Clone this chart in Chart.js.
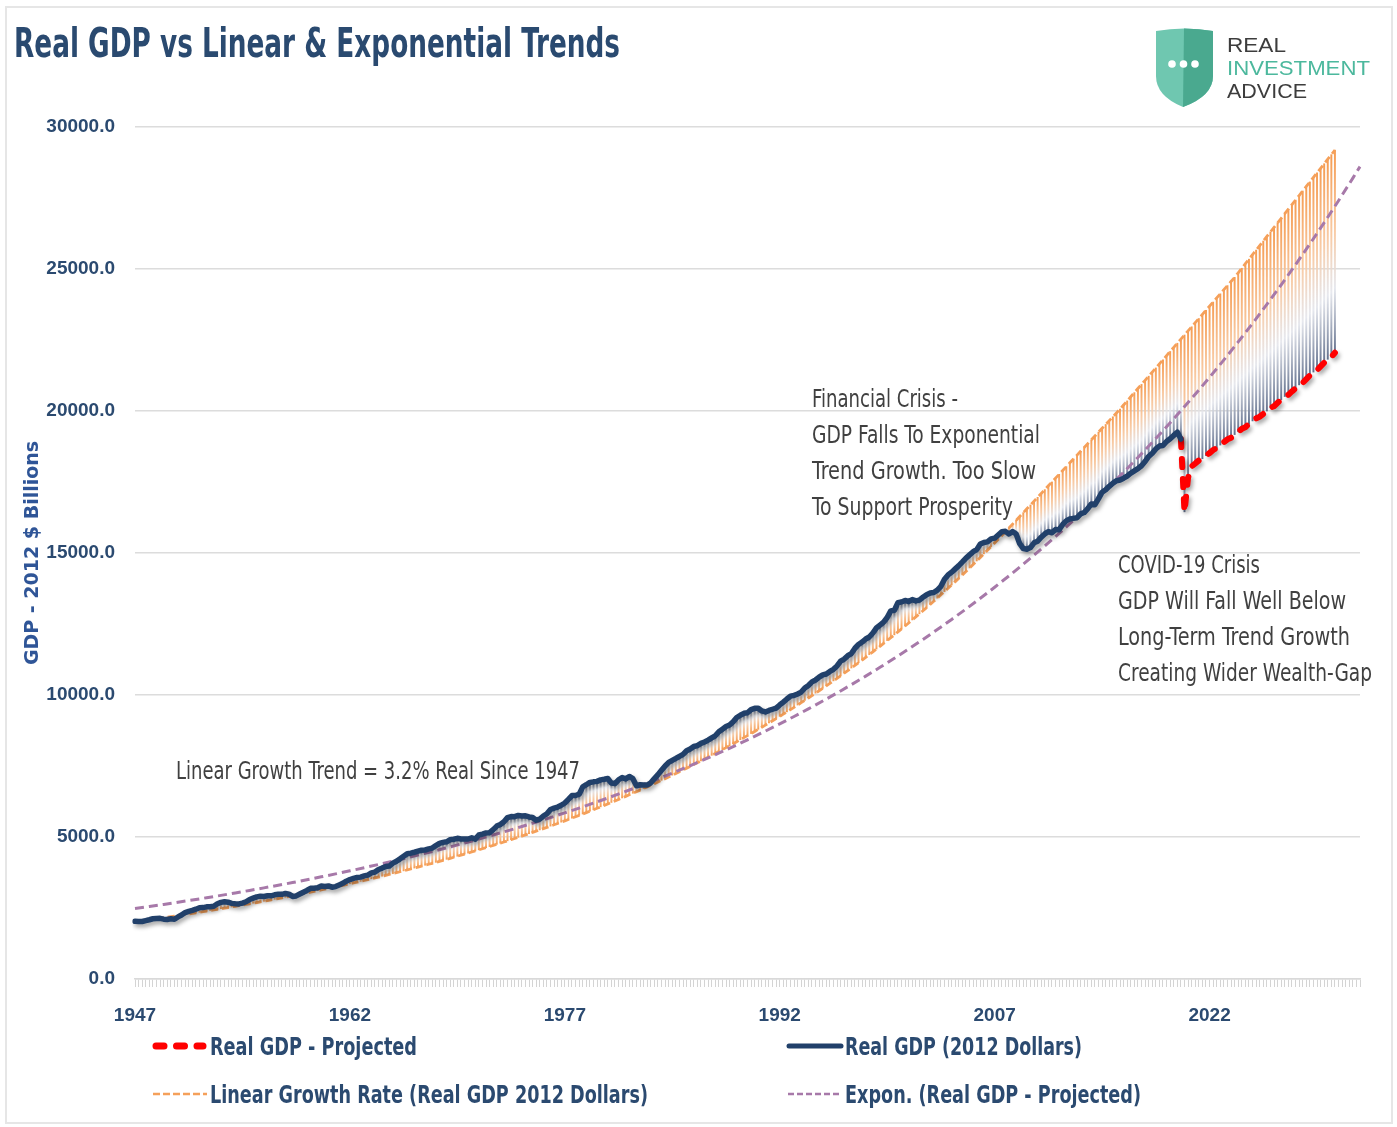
<!DOCTYPE html>
<html>
<head>
<meta charset="utf-8">
<script src="https://cdn.jsdelivr.net/npm/chart.js@4.4.1/dist/chart.umd.min.js"></script>
<style>
  html, body { margin: 0; padding: 0; background: #fff; }
  #wrap { position: relative; width: 1397px; height: 1127px; overflow: hidden;
          font-family: 'Liberation Sans Narrow', 'DejaVu Sans Condensed', 'Liberation Sans', sans-serif; }
  #frame { position: absolute; left: 5px; top: 6px; width: 1384px; height: 1114px; border: 2px solid #e6e6e6; }
  canvas { position: absolute; left: 0; top: 0; }
  svg { position: absolute; left: 0; top: 0; }
  .t { position: absolute; white-space: nowrap; line-height: 1.2; transform-origin: 0 0; }
  .note { font-size: 24px; color: #404040; }
  .leg { font-size: 25px; font-weight: bold; color: #2b4a70; }
  .logo { font-family: 'Liberation Sans', Arial, sans-serif; font-size: 21px; color: #3d3d3d; }
</style>
</head>
<body>
<div id="wrap">
  <div id="frame"></div>
  <canvas id="gdpChart" width="1397" height="1127"></canvas>

  <svg width="1397" height="1127">
    <!-- logo shield -->
    <path d="M1156,31 Q1184,26 1213,31 L1213,76 Q1213,96 1183,107 Q1156,96 1156,76 Z" fill="#6fc7b0"/>
    <path d="M1184,28.6 Q1199,29 1213,31 L1213,76 Q1213,96 1183,107 Z" fill="#4aa98f"/>
    <circle cx="1172" cy="64" r="3.8" fill="#fff"/>
    <circle cx="1183.5" cy="64" r="3.8" fill="#fff"/>
    <circle cx="1195" cy="64" r="3.8" fill="#fff"/>
    <!-- legend samples -->
    <line x1="156" y1="1046" x2="203" y2="1046" stroke="#ff0000" stroke-width="7" stroke-linecap="round" stroke-dasharray="8 12.5"/>
    <line x1="789" y1="1046" x2="841" y2="1046" stroke="#21406a" stroke-width="5" stroke-linecap="round"/>
    <line x1="153" y1="1094" x2="207" y2="1094" stroke="#f5a05a" stroke-width="2.5" stroke-dasharray="7 3"/>
    <line x1="788" y1="1094" x2="842" y2="1094" stroke="#a779a9" stroke-width="2.5" stroke-dasharray="6 3"/>
  </svg>

  <div class="t" data-x="14" data-b="57" data-w="606" style="font-size:40px;font-weight:bold;color:#2a4a70">Real GDP vs Linear &amp; Exponential Trends</div>

  <div class="t logo" data-x="1227" data-b="52" data-w="59">REAL</div>
  <div class="t logo" data-x="1227" data-b="75" data-w="143" style="color:#4cb89d">INVESTMENT</div>
  <div class="t logo" data-x="1227" data-b="97.5" data-w="80">ADVICE</div>

  <div class="t note" data-x="812" data-b="407" data-w="146">Financial Crisis -</div>
  <div class="t note" data-x="812" data-b="443" data-w="228">GDP Falls To Exponential</div>
  <div class="t note" data-x="812" data-b="479" data-w="224">Trend Growth. Too Slow</div>
  <div class="t note" data-x="812" data-b="515" data-w="201">To Support Prosperity</div>

  <div class="t note" data-x="1118" data-b="573" data-w="142">COVID-19 Crisis</div>
  <div class="t note" data-x="1118" data-b="609" data-w="228">GDP Will Fall Well Below</div>
  <div class="t note" data-x="1118" data-b="645" data-w="232">Long-Term Trend Growth</div>
  <div class="t note" data-x="1118" data-b="681" data-w="254">Creating Wider Wealth-Gap</div>

  <div class="t note" data-x="176" data-b="779" data-w="404">Linear Growth Trend = 3.2% Real Since 1947</div>

  <div class="t leg" data-x="210" data-b="1055" data-w="207">Real GDP - Projected</div>
  <div class="t leg" data-x="845" data-b="1055" data-w="237">Real GDP (2012 Dollars)</div>
  <div class="t leg" data-x="210" data-b="1103" data-w="438">Linear Growth Rate (Real GDP 2012 Dollars)</div>
  <div class="t leg" data-x="845" data-b="1103" data-w="296">Expon. (Real GDP - Projected)</div>
</div>

<script>
// x axis: quarters from 1947 Q1 to 2032 Q3
const tickYears = ['1947', '1962', '1977', '1992', '2007', '2022'];
const yTickValues = [0, 5000, 10000, 15000, 20000, 25000, 30000];

// Real GDP, billions of 2012 dollars, quarterly 1947 Q1 .. 2020 Q1
const gdp = [
  2033, 2028, 2024, 2055, 2086, 2121, 2133, 2135, 2106, 2098, 2120, 2102,
  2185, 2252, 2339, 2383, 2416, 2458, 2508, 2514, 2541, 2546, 2564, 2649,
  2698, 2718, 2703, 2663, 2650, 2645, 2674, 2720, 2798, 2847, 2893, 2917,
  2905, 2929, 2930, 2965, 2986, 2982, 3010, 2986, 2907, 2925, 2992, 3057,
  3118, 3194, 3196, 3215, 3277, 3259, 3276, 3232, 3254, 3310, 3369, 3446,
  3503, 3544, 3575, 3587, 3629, 3659, 3734, 3765, 3857, 3905, 3965, 3978,
  4080, 4147, 4231, 4320, 4412, 4431, 4463, 4499, 4533, 4542, 4580, 4609,
  4697, 4775, 4811, 4831, 4905, 4922, 4953, 4932, 4929, 4930, 4972, 4924,
  5070, 5103, 5145, 5153, 5260, 5384, 5441, 5535, 5682, 5719, 5716, 5758,
  5738, 5749, 5706, 5686, 5591, 5633, 5738, 5819, 5969, 6015, 6054, 6116,
  6198, 6324, 6460, 6462, 6508, 6766, 6841, 6922, 6942, 6958, 7011, 7033,
  7061, 6898, 6882, 7015, 7093, 7047, 7132, 7054, 6805, 6840, 6828, 6830,
  6908, 7056, 7196, 7352, 7502, 7627, 7697, 7766, 7840, 7909, 8036, 8097,
  8187, 8220, 8296, 8346, 8412, 8490, 8564, 8707, 8797, 8890, 8942, 9059,
  9209, 9288, 9355, 9376, 9486, 9531, 9534, 9438, 9404, 9456, 9498, 9539,
  9650, 9752, 9860, 9958, 9988, 10034, 10103, 10249, 10336, 10462, 10528, 10630,
  10710, 10740, 10830, 10904, 11023, 11192, 11265, 11384, 11459, 11646, 11780, 11865,
  11972, 12042, 12184, 12361, 12463, 12564, 12728, 12962, 12984, 13249, 13277, 13330,
  13292, 13359, 13312, 13343, 13445, 13534, 13591, 13609, 13692, 13827, 14078, 14228,
  14325, 14441, 14556, 14685, 14821, 14932, 15045, 15119, 15316, 15369, 15393, 15496,
  15522, 15637, 15750, 15762, 15671, 15752, 15667, 15328, 15156, 15134, 15190, 15357,
  15415, 15557, 15672, 15751, 15713, 15825, 15820, 16004, 16130, 16199, 16220, 16240,
  16380, 16425, 16560, 16727, 16701, 16913, 17142, 17226, 17349, 17457, 17545, 17572,
  17635, 17710, 17810, 17893, 17970, 18072, 18221, 18400, 18511, 18665, 18765, 18784,
  18928, 19022, 19141, 19254, 19011
];

// projected path, quarterly 2020 Q1 .. 2030 Q4
const projected = [
  19011, 16450, 17650, 18050, 18150, 18260, 18320, 18430, 18520, 18630, 18690, 18800,
  18900, 19000, 19060, 19170, 19270, 19370, 19430, 19540, 19650, 19740, 19800, 19900,
  20000, 20110, 20170, 20290, 20400, 20510, 20570, 20690, 20800, 20920, 20990, 21120,
  21250, 21370, 21440, 21570, 21700, 21820, 21900, 22050
];

// 3.2% growth trend, quarterly 1947 Q1 .. 2030 Q4
const linearTrend = [
  2020, 2037, 2055, 2072, 2089, 2107, 2125, 2143, 2161, 2180, 2198, 2217,
  2236, 2255, 2274, 2293, 2312, 2332, 2352, 2372, 2392, 2413, 2433, 2454,
  2474, 2495, 2517, 2538, 2559, 2581, 2603, 2625, 2647, 2670, 2693, 2716,
  2738, 2762, 2785, 2809, 2832, 2857, 2881, 2906, 2930, 2955, 2980, 3005,
  3031, 3057, 3083, 3109, 3135, 3162, 3189, 3216, 3243, 3270, 3298, 3326,
  3354, 3383, 3412, 3441, 3469, 3499, 3529, 3559, 3589, 3620, 3650, 3681,
  3712, 3744, 3776, 3808, 3840, 3873, 3906, 3939, 3972, 4006, 4040, 4074,
  4108, 4144, 4179, 4214, 4250, 4286, 4323, 4359, 4396, 4433, 4471, 4509,
  4547, 4586, 4625, 4664, 4703, 4743, 4784, 4824, 4865, 4907, 4948, 4990,
  5032, 5075, 5119, 5162, 5205, 5250, 5295, 5339, 5384, 5430, 5477, 5523,
  5569, 5617, 5665, 5713, 5761, 5810, 5860, 5909, 5959, 6010, 6061, 6112,
  6164, 6217, 6270, 6322, 6375, 6430, 6485, 6540, 6595, 6651, 6708, 6765,
  6821, 6880, 6938, 6997, 7056, 7116, 7177, 7238, 7298, 7361, 7424, 7487,
  7549, 7614, 7679, 7744, 7809, 7876, 7943, 8010, 8077, 8147, 8216, 8286,
  8355, 8427, 8499, 8570, 8642, 8717, 8791, 8865, 8939, 9016, 9093, 9170,
  9247, 9326, 9406, 9485, 9565, 9647, 9729, 9811, 9894, 9979, 10064, 10149,
  10234, 10322, 10410, 10498, 10586, 10677, 10768, 10859, 10950, 11044, 11138, 11232,
  11326, 11423, 11521, 11618, 11715, 11816, 11917, 12017, 12118, 12222, 12326, 12431,
  12535, 12643, 12750, 12858, 12966, 13077, 13189, 13300, 13411, 13527, 13642, 13757,
  13873, 13992, 14111, 14230, 14350, 14473, 14596, 14720, 14843, 14970, 15098, 15226,
  15353, 15485, 15617, 15749, 15881, 16016, 16151, 16286, 16421, 16556, 16691, 16826,
  16961, 17096, 17231, 17366, 17501, 17636, 17771, 17906, 18041, 18176, 18311, 18446,
  18581, 18716, 18851, 18986, 19121, 19256, 19391, 19526, 19661, 19796, 19931, 20066,
  20211, 20356, 20501, 20646, 20791, 20936, 21081, 21226, 21371, 21516, 21661, 21806,
  21951, 22096, 22241, 22386, 22531, 22676, 22821, 22966, 23111, 23256, 23401, 23546,
  23691, 23836, 23981, 24126, 24271, 24416, 24561, 24706, 24866, 25026, 25186, 25346,
  25506, 25666, 25826, 25986, 26146, 26306, 26466, 26626, 26786, 26946, 27106, 27266,
  27426, 27586, 27746, 27906, 28066, 28226, 28386, 28546, 28706, 28866, 29026, 29186
];

// exponential trendline, one value per year (Q1 of 1947 .. 2032), plus end point 2032 Q3
const exponTrend = [
  2480, 2552, 2626, 2702, 2781, 2861, 2944, 3030, 3118, 3208,
  3301, 3397, 3495, 3597, 3701, 3809, 3919, 4033, 4150, 4270,
  4394, 4522, 4653, 4788, 4927, 5070, 5217, 5368, 5524, 5684,
  5849, 6019, 6193, 6373, 6558, 6748, 6944, 7146, 7353, 7566,
  7786, 8012, 8244, 8483, 8729, 8983, 9243, 9511, 9787, 10071,
  10364, 10664, 10974, 11292, 11620, 11957, 12304, 12661, 13028, 13406,
  13795, 14195, 14607, 15031, 15467, 15916, 16377, 16852, 17341, 17844,
  18362, 18895, 19443, 20007, 20588, 21185, 21800, 22432, 23083, 23753,
  24442, 25151, 25881, 26631, 27404, 28199
];
const exponEnd = 28605;

// ---- build what the library needs ----
const labels = [];
for (let y = 1947; y <= 2032; y++) {
  for (let q = 1; q <= 4; q++) labels.push(y + ' Q' + q);
}
labels.length = 343;

const projStart = gdp.length - 1;
const projData = labels.map((_, i) => (i >= projStart && i - projStart < projected.length) ? projected[i - projStart] : null);
const lowVals = linearTrend.map((_, i) => i < gdp.length ? gdp[i] : projected[i - projStart]);
const gapBars = linearTrend.map((t, i) => [lowVals[i], t]);
const exponData = labels.map(() => null);
exponTrend.forEach((v, k) => { exponData[k * 4] = v; });
exponData[labels.length - 1] = exponEnd;

const tickFont = { family: "'Liberation Sans', Arial, sans-serif", size: 19, weight: 'bold' };
const navy = '#2b4a70';

const lineShadow = {
  id: 'lineShadow',
  beforeDatasetDraw(chart, args) {
    if (!chart.data.datasets[args.index].shadow) return;
    const ctx = chart.ctx;
    ctx.save();
    ctx.shadowColor = 'rgba(0,0,0,0.35)';
    ctx.shadowBlur = 4;
    ctx.shadowOffsetX = 2;
    ctx.shadowOffsetY = 3;
  },
  afterDatasetDraw(chart, args) {
    if (chart.data.datasets[args.index].shadow) chart.ctx.restore();
  }
};

function gapColor(c) {
  const orange = 'rgba(245,160,90,1)';
  if (c.type !== 'data' || !c.chart.chartArea) return orange;
  const y = c.chart.scales.y;
  const top = y.getPixelForValue(linearTrend[c.dataIndex]);
  const bot = y.getPixelForValue(lowVals[c.dataIndex]);
  if (!isFinite(top) || !isFinite(bot) || Math.abs(bot - top) < 2) return orange;
  const g = c.chart.ctx.createLinearGradient(0, top, 0, bot);
  g.addColorStop(0, 'rgba(245,156,82,1)');
  g.addColorStop(0.4, 'rgba(248,200,160,0.95)');
  g.addColorStop(0.68, 'rgba(226,228,235,0.85)');
  g.addColorStop(1, 'rgba(90,105,135,0.95)');
  return g;
}

const chart = new Chart(document.getElementById('gdpChart'), {
  type: 'line',
  data: {
    labels: labels,
    datasets: [
      {
        label: 'Real GDP (2012 Dollars)',
        data: gdp,
        borderColor: '#21406a',
        borderWidth: 5.5,
        borderJoinStyle: 'round',
        borderCapStyle: 'round',
        shadow: true,
        order: 0
      },
      {
        label: 'Real GDP - Projected',
        data: projData,
        borderColor: '#ff0000',
        borderWidth: 6,
        borderDash: [8, 12],
        borderCapStyle: 'round',
        shadow: true,
        order: 1
      },
      {
        label: 'Expon. (Real GDP - Projected)',
        data: exponData,
        spanGaps: true,
        borderColor: '#a779a9',
        borderWidth: 3,
        borderDash: [9, 5],
        order: 2
      },
      {
        label: 'Linear Growth Rate (Real GDP 2012 Dollars)',
        data: linearTrend,
        borderColor: '#f5a05a',
        borderWidth: 2.8,
        borderDash: [7, 4],
        order: 3
      },
      {
        type: 'bar',
        label: 'gap',
        data: gapBars,
        backgroundColor: gapColor,
        borderWidth: 0,
        barThickness: 1.3,
        order: 4
      }
    ]
  },
  options: {
    responsive: false,
    devicePixelRatio: 1,
    animation: false,
    events: [],
    layout: { padding: { top: 127, right: 37, bottom: 88, left: 0 } },
    elements: { point: { radius: 0 }, line: { tension: 0 } },
    plugins: { legend: { display: false }, tooltip: { enabled: false } },
    scales: {
      x: {
        type: 'category',
        offset: false,
        grid: { offset: false, drawOnChartArea: false, drawTicks: true, tickLength: 8, color: '#d4d4d4', lineWidth: 1 },
        border: { display: true, color: '#d9d9d9', width: 1.5 },
        ticks: {
          autoSkip: false, maxRotation: 0, minRotation: 0, padding: 17,
          color: navy, font: tickFont,
          callback: (v, i) => i % 60 === 0 ? tickYears[i / 60] : ''
        },
        afterFit: s => { s.height = 60; }
      },
      y: {
        min: 0, max: 30000,
        afterBuildTicks: s => { s.ticks = yTickValues.map(v => ({ value: v })); },
        grid: { color: '#dcdcdc', lineWidth: 1.5, drawTicks: false },
        border: { display: false },
        ticks: { padding: 20, color: navy, font: tickFont, callback: v => Number(v).toFixed(1) },
        title: {
          display: true, text: 'GDP - 2012 $ Billions', color: '#2f5597',
          font: { family: "'DejaVu Sans', Verdana, sans-serif", size: 19, weight: 'bold' },
          padding: { top: 22, bottom: 0 }
        },
        afterFit: s => { s.width = 135; }
      }
    }
  },
  plugins: [lineShadow]
});
chart.update('none');

// place and fit the html texts
document.querySelectorAll('.t').forEach(el => {
  const mark = document.createElement('span');
  mark.style.cssText = 'display:inline-block;width:0;height:0;';
  el.appendChild(mark);
  const base = mark.offsetTop;
  const w = el.getBoundingClientRect().width;
  el.style.left = el.dataset.x + 'px';
  el.style.top = (el.dataset.b - base) + 'px';
  el.style.transform = `scaleX(${el.dataset.w / w})`;
});
</script>
</body>
</html>
